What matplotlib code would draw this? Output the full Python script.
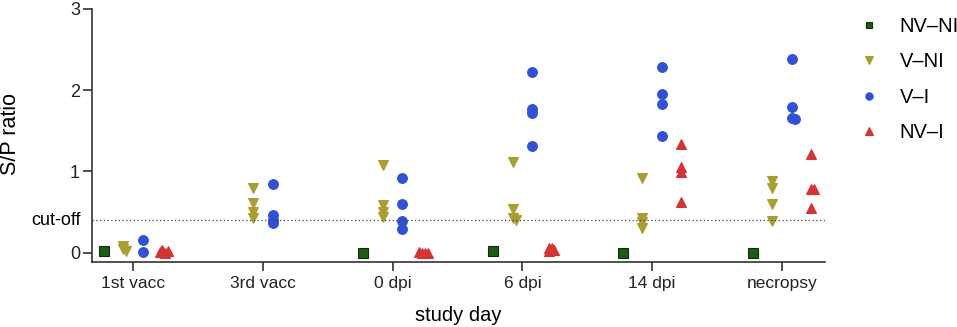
import numpy as np
import matplotlib
matplotlib.use('Agg')
import matplotlib.pyplot as plt
from matplotlib.transforms import blended_transform_factory

plt.rcParams['font.family'] = ['Liberation Sans', 'DejaVu Sans']

days = ['1st vacc', '3rd vacc', '0 dpi', '6 dpi', '14 dpi', 'necropsy']
groups = ['NV\u2013NI', 'V\u2013NI', 'V\u2013I', 'NV\u2013I']

# S/P ratio per group, one list per study day
nv_ni = [[0.02], [], [0.0], [0.02], [0.0], [0.0]]
v_ni = [[0.08, 0.04, 0.02],
        [0.80, 0.61, 0.50, 0.42],
        [1.08, 0.58, 0.50, 0.44],
        [1.11, 0.54, 0.43, 0.40],
        [0.92, 0.42, 0.37, 0.30],
        [0.88, 0.79, 0.60, 0.39]]
v_i = [[0.16, 0.01],
       [0.85, 0.46, 0.40, 0.36],
       [0.92, 0.60, 0.39, 0.29],
       [2.22, 1.77, 1.72, 1.31],
       [2.29, 1.95, 1.83, 1.44],
       [2.38, 1.79, 1.66, 1.65]]
nv_i = [[0.03, 0.0, 0.01, 0.02],
        [],
        [0.0, 0.0, 0.01, 0.0],
        [0.05, 0.03, 0.06, 0.02],
        [1.34, 1.05, 0.99, 0.62],
        [1.21, 0.78, 0.78, 0.55]]
cutoff = 0.4

series = [nv_ni, v_ni, v_i, nv_i]
colors = ['#1f5a17', '#aa9e30', '#3050d6', '#d63434']
edges = ['#0d2e0a', '#aa9e30', '#3050d6', '#d63434']
markers = ['s', 'v', 'o', '^']
sizes = [6.5, 7, 7, 7]
offsets = [-0.225, -0.075, 0.075, 0.225]


def spread(vals, thr=0.035, step=0.022):
    # shift overlapping points sideways, prism style
    xs = []
    for i, v in enumerate(vals):
        n = sum(1 for w in vals[:i] if abs(w - v) < thr)
        if n == 0:
            xs.append(0.0)
        else:
            k = (n + 1) // 2
            xs.append(step * k * (1 if n % 2 else -1))
    return xs


fig = plt.figure(figsize=(9.57, 3.27), dpi=100)
ax = fig.add_axes([0.0958, 0.1997, 0.766, 0.7728])

for s, data in enumerate(series):
    first = True
    for d, vals in enumerate(data):
        if not vals:
            continue
        xs = [d + offsets[s] + dx for dx in spread(vals)]
        ax.plot(xs, vals, linestyle='none', marker=markers[s], ms=sizes[s],
                mfc=colors[s], mec=edges[s], mew=0.8,
                label=groups[s] if first else None)
        first = False

ax.axhline(cutoff, color='#444444', lw=0.9, ls=(0, (1, 2)))

ax.set_xlim(-0.32, 5.33)
ax.set_ylim(-0.113, 3)
ax.set_xticks(range(len(days)))
ax.set_xticklabels(days, fontsize=12.5)
ax.set_yticks([0, 1, 2, 3])
ax.set_yticklabels(['0', '1', '2', '3'], fontsize=13)
trans = blended_transform_factory(ax.transAxes, ax.transData)
ax.text(-0.015, cutoff, 'cut-off', transform=trans, ha='right', va='center', fontsize=13)

for side in ['top', 'right']:
    ax.spines[side].set_visible(False)
for side in ['left', 'bottom']:
    ax.spines[side].set_color('#222222')
    ax.spines[side].set_linewidth(1.1)
ax.tick_params(axis='both', colors='#222222', width=1.1, length=6.5, pad=2)
ax.tick_params(axis='x', pad=4)

ax.set_xlabel('study day', fontsize=14.5)
ax.xaxis.set_label_coords(0.5, -0.175)
ax.set_ylabel('S/P ratio', fontsize=15.5, va='center')
ax.yaxis.set_label_coords(-0.111, 0.507)

leg = ax.legend(loc='upper left', bbox_to_anchor=(0.881, 0.99), bbox_transform=fig.transFigure,
                frameon=False, fontsize=14.5, markerscale=0.75, handlelength=1.2,
                handletextpad=0.9, labelspacing=0.8, borderpad=0.2)

fig.savefig('out.png', dpi=100)
